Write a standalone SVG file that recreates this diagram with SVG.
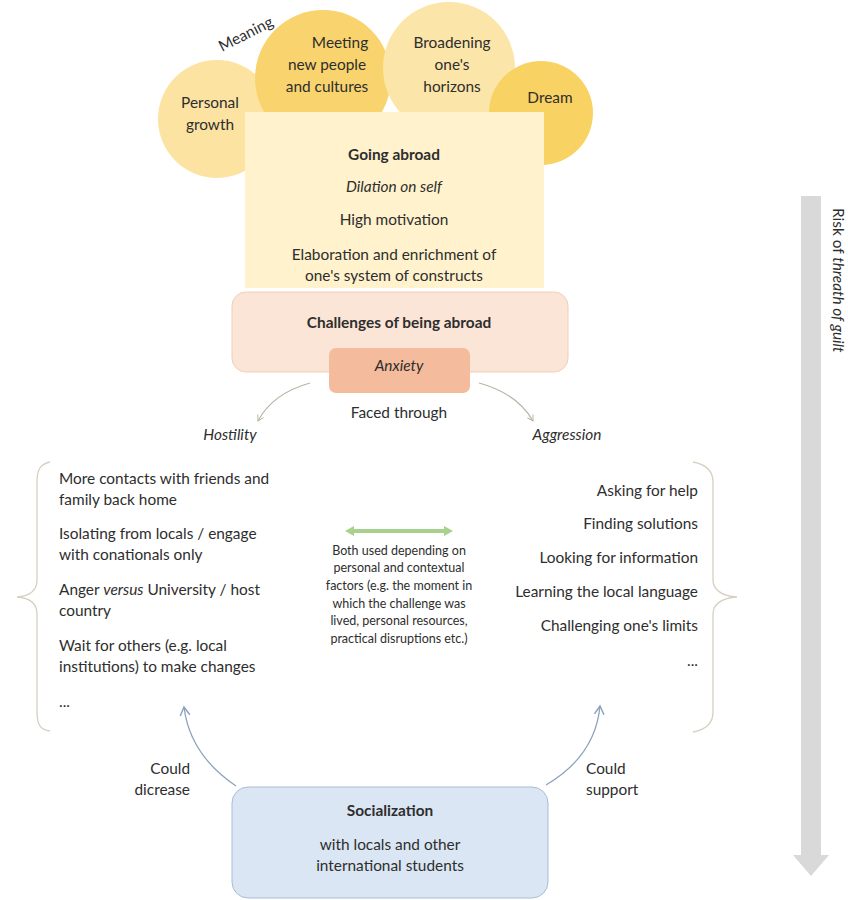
<svg xmlns="http://www.w3.org/2000/svg" width="848" height="900" viewBox="0 0 848 900">
<defs>
<style>
text{font-family:Lato,"Open Sans","Liberation Sans",sans-serif;font-size:15.4px;fill:#2e2e2e;}
.c{text-anchor:middle;}
.r{text-anchor:end;}
.b{font-weight:bold;}
.i{font-style:italic;}
.s{font-size:12.5px;}
.brace{fill:none;stroke:#d6d0bf;stroke-width:1.3;}
.tan{fill:none;stroke:#b8b4a4;stroke-width:1.2;}
.blu{fill:none;stroke:#8da2bd;stroke-width:1.3;}
</style>
<marker id="ah" viewBox="0 0 10 10" refX="8" refY="5" markerWidth="8" markerHeight="8" orient="auto" markerUnits="userSpaceOnUse">
<path d="M1,1 L8,5 L1,9" fill="none" stroke="#b8b4a4" stroke-width="1.2"/>
</marker>
<marker id="ahb" viewBox="0 0 10 10" refX="8" refY="5" markerWidth="12" markerHeight="12" orient="auto" markerUnits="userSpaceOnUse">
<path d="M1,1 L8,5 L1,9" fill="none" stroke="#8da2bd" stroke-width="1.2"/>
</marker>
</defs>
<rect width="848" height="900" fill="#fff"/>

<g id="circles">
<g id="personal-growth"><circle cx="217" cy="119" r="59" fill="#fce3a1"/></g>
<g id="meeting"><circle cx="323" cy="78" r="68" fill="#f9d46e"/></g>
<g id="broadening"><circle cx="449" cy="68" r="66" fill="#fce5a8"/></g>
<g id="dream"><circle cx="541" cy="113" r="52" fill="#f9d264"/></g>
<text class="c" x="210" y="108">Personal</text>
<text class="c" x="210" y="130">growth</text>
<text class="c" x="340" y="48">Meeting</text>
<text class="c" x="327" y="70">new people</text>
<text class="c" x="327" y="92">and cultures</text>
<text class="c" x="452" y="48">Broadening</text>
<text class="c" x="452" y="70">one's</text>
<text class="c" x="452" y="92">horizons</text>
<text class="c" x="550" y="103">Dream</text>
<text transform="translate(222,52) rotate(-27)">Meaning</text>
</g>

<g id="going-abroad">
<rect x="245" y="112" width="299" height="176" fill="#fff2cc"/>
<text class="c b" x="394" y="160">Going abroad</text>
<text class="c i" x="394" y="192">Dilation on self</text>
<text class="c" x="394" y="225">High motivation</text>
<text class="c" x="394" y="260">Elaboration and enrichment of</text>
<text class="c" x="394" y="281">one's system of constructs</text>
</g>

<g id="challenges">
<rect x="232" y="292" width="336" height="80" rx="14" fill="#fbe5d6" stroke="#f3cdb8" stroke-width="1"/>
<text class="c b" x="399" y="328">Challenges of being abroad</text>
</g>

<g id="anxiety">
<rect x="329" y="348" width="141" height="45" rx="7" fill="#f4bb9c"/>
<text class="c i" x="399" y="371">Anxiety</text>
</g>

<g id="hostility">
<text class="c i" x="230" y="440">Hostility</text>
<path class="brace" d="M50,462 C40,464 37,470 37,482 L37,580 C37,590 30,596 17,597 C30,598 37,604 37,614 L37,712 C37,724 40,730 50,731"/>
<text x="59" y="484">More contacts with friends and</text>
<text x="59" y="505">family back home</text>
<text x="59" y="539">Isolating from locals / engage</text>
<text x="59" y="560">with conationals only</text>
<text x="59" y="595">Anger <tspan class="i">versus</tspan> University / host</text>
<text x="59" y="616">country</text>
<text x="59" y="651">Wait for others (e.g. local</text>
<text x="59" y="672">institutions) to make changes</text>
<text x="59" y="707">...</text>
</g>

<g id="aggression">
<text class="c i" x="567" y="440">Aggression</text>
<path class="brace" d="M693,462 C704,464 713,470 713,482 L713,580 C713,590 722,596 737,597 C722,598 713,604 713,614 L713,712 C713,724 704,730 693,732"/>
<text class="r" x="698" y="496">Asking for help</text>
<text class="r" x="698" y="529">Finding solutions</text>
<text class="r" x="698" y="563">Looking for information</text>
<text class="r" x="698" y="597">Learning the local language</text>
<text class="r" x="698" y="631">Challenging one's limits</text>
<text class="r" x="698" y="666">...</text>
</g>

<g id="both-used">
<text class="c s" x="399" y="555">Both used depending on</text>
<text class="c s" x="399" y="572">personal and contextual</text>
<text class="c s" x="399" y="590">factors (e.g. the moment in</text>
<text class="c s" x="399" y="608">which the challenge was</text>
<text class="c s" x="399" y="625">lived, personal resources,</text>
<text class="c s" x="399" y="643">practical disruptions etc.)</text>
</g>

<g id="socialization">
<rect x="232" y="787" width="316" height="111" rx="16" fill="#dae6f3" stroke="#a9bdd6" stroke-width="1"/>
<text class="c b" x="390" y="816">Socialization</text>
<text class="c" x="390" y="850">with locals and other</text>
<text class="c" x="390" y="871">international students</text>
</g>

<g id="risk">
<path d="M801,196 L821,196 L821,855 L829,855 L811,876 L793,855 L801,855 Z" fill="#d9d9d9"/>
<text transform="translate(833,208) rotate(90)">Risk of <tspan class="i">threath of guilt</tspan></text>
</g>

<g id="connectors">
<text class="c" x="399" y="418">Faced through</text>
<path class="tan" d="M310,383 C285,390 268,402 258,421" marker-end="url(#ah)"/>
<path class="tan" d="M479,383 C505,390 522,402 533,421" marker-end="url(#ah)"/>
<path d="M352,531 L446,531" stroke="#a9d18e" stroke-width="4" fill="none"/>
<path d="M345,531 L354,526 L354,536 Z M453,531 L444,526 L444,536 Z" fill="#a9d18e"/>
<path class="blu" d="M236,786 C205,765 188,740 184,707" marker-end="url(#ahb)"/>
<path class="blu" d="M546,785 C580,765 597,738 600,706" marker-end="url(#ahb)"/>
<text class="r" x="190" y="774">Could</text>
<text class="r" x="190" y="795">dicrease</text>
<text x="586" y="774">Could</text>
<text x="586" y="795">support</text>
</g>
</svg>
